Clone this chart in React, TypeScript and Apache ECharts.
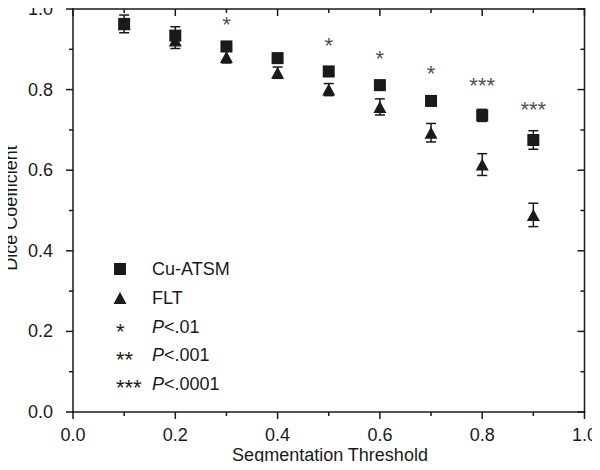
import React, { useEffect, useRef } from "react";
import * as echarts from "echarts";

const thresholds = [0.1, 0.2, 0.3, 0.4, 0.5, 0.6, 0.7, 0.8, 0.9];
const cuAtsm = [0.963, 0.934, 0.907, 0.878, 0.845, 0.811, 0.772, 0.736, 0.675];
const cuAtsmErr = [0.022, 0.022, 0.012, 0.012, 0.012, 0.012, 0.012, 0.015, 0.023];
const flt = [0.962, 0.922, 0.881, 0.842, 0.8, 0.757, 0.693, 0.614, 0.489];
const fltErr = [0.012, 0.02, 0.015, 0.014, 0.015, 0.02, 0.023, 0.027, 0.029];
const starX = [0.3, 0.5, 0.6, 0.7, 0.8, 0.9];
const starY = [0.957, 0.904, 0.872, 0.836, 0.806, 0.746];
const starText = ["*", "*", "*", "*", "***", "***"];
const tickValues = [0, 0.1, 0.2, 0.3, 0.4, 0.5, 0.6, 0.7, 0.8, 0.9, 1.0];
const legendRows = [
  { stars: "*", label: "<.01" },
  { stars: "**", label: "<.001" },
  { stars: "***", label: "<.0001" },
];

const FONT = "Liberation Sans, Arial, sans-serif";
const INK = "#1a1a1a";
const FS = 18;
const LW = 1.5;

function errData(vals: number[], errs: number[]) {
  return thresholds.map((x, i) => [x, vals[i] - errs[i], vals[i] + errs[i]]);
}

function renderErr(params: any, api: any) {
  const x = api.value(0);
  const lo = api.coord([x, api.value(1)]);
  const hi = api.coord([x, api.value(2)]);
  const cap = 5;
  const style = { stroke: INK, lineWidth: LW };
  return {
    type: "group",
    children: [
      { type: "line", shape: { x1: lo[0], y1: lo[1], x2: hi[0], y2: hi[1] }, style },
      { type: "line", shape: { x1: lo[0] - cap, y1: lo[1], x2: lo[0] + cap, y2: lo[1] }, style },
      { type: "line", shape: { x1: hi[0] - cap, y1: hi[1], x2: hi[0] + cap, y2: hi[1] }, style },
    ],
  };
}

function bar(x: number, y: number, w: number, h: number) {
  return { type: "rect", z: 100, shape: { x, y, width: w, height: h }, style: { fill: INK } };
}

export default function App() {
  const ref = useRef<HTMLDivElement>(null);
  useEffect(() => {
    if (!ref.current) return;
    const chart = echarts.init(ref.current, undefined, { renderer: "svg" });
    const labelStyle = { color: INK, fontSize: FS, fontFamily: FONT };

    chart.setOption({
      animation: false,
      backgroundColor: "#fff",
      grid: { left: 73, right: 13, top: 5, bottom: 58 },
      xAxis: {
        type: "value",
        min: 0,
        max: 1,
        interval: 0.2,
        axisLine: { show: false },
        axisTick: { show: false },
        splitLine: { show: false },
        axisLabel: { ...labelStyle, margin: 14, formatter: (v: number) => v.toFixed(1) },
      },
      yAxis: {
        type: "value",
        min: 0,
        max: 1,
        interval: 0.2,
        axisLine: { show: false },
        axisTick: { show: false },
        splitLine: { show: false },
        axisLabel: { ...labelStyle, margin: 20, formatter: (v: number) => v.toFixed(1) },
      },
      series: [
        {
          type: "custom",
          name: "FLT err",
          renderItem: renderErr,
          data: errData(flt, fltErr),
          z: 2,
        },
        {
          type: "custom",
          name: "Cu err",
          renderItem: renderErr,
          data: errData(cuAtsm, cuAtsmErr),
          z: 2,
        },
        {
          type: "scatter",
          name: "FLT",
          symbol: "triangle",
          symbolSize: [13, 12],
          itemStyle: { color: INK, opacity: 1 },
          data: thresholds.map((x, i) => [x, flt[i]]),
          z: 3,
        },
        {
          type: "scatter",
          name: "Cu-ATSM",
          symbol: "rect",
          symbolSize: 12,
          itemStyle: { color: INK, opacity: 1 },
          data: thresholds.map((x, i) => [x, cuAtsm[i]]),
          z: 4,
        },
        {
          type: "scatter",
          name: "sig",
          symbolSize: 1,
          itemStyle: { color: "rgba(0,0,0,0)" },
          label: {
            show: true,
            position: "inside",
            formatter: (p: any) => p.name,
            fontSize: 22,
            fontFamily: FONT,
            color: INK,
            offset: [0, -2],
          },
          data: starX.map((x, i) => ({ name: starText[i], value: [x, starY[i]] })),
          z: 5,
        },
      ],
    });

    // frame and ticks, placed through the axes' scales
    const px = (x: number, y: number) => chart.convertToPixel({ xAxisIndex: 0, yAxisIndex: 0 }, [x, y]) as number[];
    const h = LW / 2;
    const frame: any[] = [];
    tickValues.forEach((v, i) => {
      const len = i % 2 === 0 ? 7 : 4;
      const b = px(v, 0);
      const t = px(v, 1);
      const l = px(0, v);
      const r = px(1, v);
      frame.push(bar(b[0] - h, b[1], LW, len));
      frame.push(bar(t[0] - h, t[1], LW, len));
      frame.push(bar(l[0] - len, l[1] - h, len, LW));
      frame.push(bar(r[0] - len, r[1] - h, len, LW));
    });
    const p0 = px(0, 0);
    const p1 = px(1, 1);
    const w = p1[0] - p0[0];
    const ht = p0[1] - p1[1];
    frame.push(
      bar(p0[0] - h, p0[1] - h, w + LW, LW),
      bar(p0[0] - h, p1[1] - h, w + LW, LW),
      bar(p0[0] - h, p1[1] - h, LW, ht + LW),
      bar(p1[0] - h, p1[1] - h, LW, ht + LW)
    );

    const graphics: any[] = [
      ...frame,
      { type: "rect", shape: { x: 114, y: 263, width: 12, height: 12 }, style: { fill: INK } },
      {
        type: "text",
        x: 152,
        y: 269,
        style: { text: "Cu-ATSM", fontSize: FS, fontFamily: FONT, fill: INK, verticalAlign: "middle" },
      },
      {
        type: "polygon",
        shape: { points: [[120, 292], [126.5, 304], [113.5, 304]] },
        style: { fill: INK },
      },
      {
        type: "text",
        x: 152,
        y: 298,
        style: { text: "FLT", fontSize: FS, fontFamily: FONT, fill: INK, verticalAlign: "middle" },
      },
      {
        type: "text",
        x: 330,
        y: 455,
        style: {
          text: "Segmentation Threshold",
          fontSize: FS,
          fontFamily: FONT,
          fill: INK,
          align: "center",
          verticalAlign: "middle",
        },
      },
      {
        type: "text",
        x: 11,
        y: 208,
        rotation: Math.PI / 2,
        style: {
          text: "Dice Coefficient",
          fontSize: FS,
          fontFamily: FONT,
          fill: INK,
          align: "center",
          verticalAlign: "middle",
        },
      },
    ];
    legendRows.forEach((r, i) => {
      const y = 327 + i * 28.3;
      graphics.push({
        type: "text",
        x: 116,
        y: y + 4,
        style: { text: r.stars, fontSize: 22, fontFamily: FONT, fill: INK, verticalAlign: "middle" },
      });
      graphics.push({
        type: "text",
        x: 152,
        y,
        style: {
          text: "{i|P}" + r.label,
          fontSize: FS,
          fontFamily: FONT,
          fill: INK,
          verticalAlign: "middle",
          rich: { i: { fontStyle: "italic", fontSize: FS, fontFamily: FONT, fill: INK } },
        },
      });
    });

    chart.setOption({ graphic: graphics });
    return () => chart.dispose();
  }, []);
  return <div ref={ref} style={{ width: 600, height: 470, margin: -8 }} />;
}
